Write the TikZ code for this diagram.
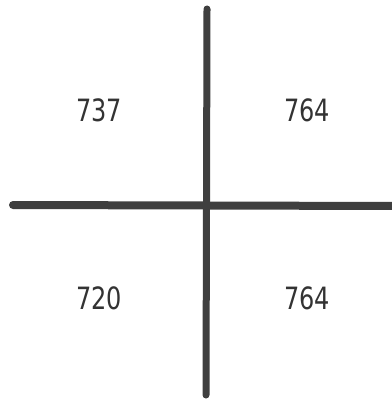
\documentclass[tikz,border=0pt]{standalone}
\usepackage{fontspec}
\newfontfamily\numfont{DejaVu Sans}
\definecolor{linegray}{HTML}{3F3F3F}
\definecolor{textgray}{HTML}{333333}
\tikzset{
  bar/.style={draw=linegray, line width=7pt, line cap=round},
  num/.style={text=textgray, font=\numfont\fontsize{24}{30}\selectfont, inner sep=0pt}
}
\newcommand{\tallnum}[1]{\scalebox{1}[1.28]{#1}}
\begin{document}
\begin{tikzpicture}[x=1pt,y=-1pt]
\useasboundingbox (0,0) rectangle (391,403);
\coordinate (top) at (207,9);
\coordinate (bot) at (206,395);
\coordinate (left) at (13,205);
\coordinate (right) at (395,206);
\draw[bar] (top) -- (bot);
\draw[bar, line width=8pt] (left) -- (right);
\node[num] (a) at (99,110) {\tallnum{737}};
\node[num] (b) at (307,110) {\tallnum{764}};
\node[num] (c) at (99,298) {\tallnum{720}};
\node[num] (d) at (307,298) {\tallnum{764}};
\end{tikzpicture}
\end{document}
